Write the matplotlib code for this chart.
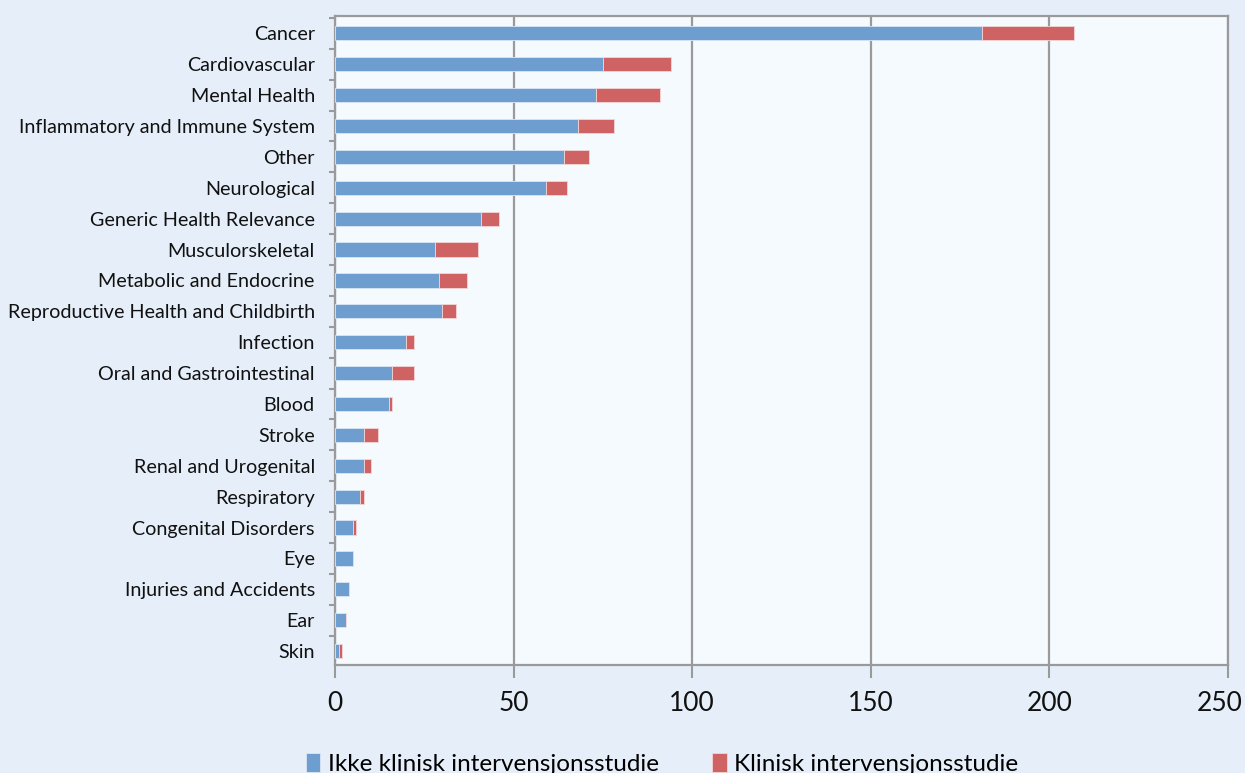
import matplotlib
matplotlib.use("Agg")
import matplotlib.pyplot as plt
import matplotlib.transforms as mtransforms
import numpy as np
from matplotlib.ticker import FixedLocator

plt.rcParams['font.family'] = ['Lato', 'DejaVu Sans']

categories = ["Cancer", "Cardiovascular", "Mental Health", "Inflammatory and Immune System",
              "Other", "Neurological", "Generic Health Relevance", "Musculorskeletal",
              "Metabolic and Endocrine", "Reproductive Health and Childbirth", "Infection",
              "Oral and Gastrointestinal", "Blood", "Stroke", "Renal and Urogenital",
              "Respiratory", "Congenital Disorders", "Eye", "Injuries and Accidents", "Ear", "Skin"]
ikke_klinisk = [181, 75, 73, 68, 64, 59, 41, 28, 29, 30, 20, 16, 15, 8, 8, 7, 5, 5, 4, 3, 1]
klinisk = [26, 19, 18, 10, 7, 6, 5, 12, 8, 4, 2, 6, 1, 4, 2, 1, 1, 0, 0, 0, 1]
xticks = [0, 50, 100, 150, 200, 250]
legend_labels = ["Ikke klinisk intervensjonsstudie", "Klinisk intervensjonsstudie"]

blue = '#6d9ecf'
red = '#cf6363'
grid_col = '#9a9a9a'

fig = plt.figure(figsize=(12.45, 7.73), dpi=100)
fig.patch.set_facecolor('#e6eff9')
ax = fig.add_axes([335/1245, 1-665/773, (1228-335)/1245, (665-16)/773])
ax.set_facecolor('#f5faff')

y = np.arange(len(categories))
b1 = ax.barh(y, ikke_klinisk, height=0.46, color=blue, edgecolor='#dbe7f5', linewidth=0.6, zorder=3)
b2 = ax.barh(y, klinisk, left=ikke_klinisk, height=0.46, color=red, edgecolor='#f2d6d6', linewidth=0.6, zorder=3)

ax.set_ylim(len(categories) - 0.55, -0.56)
ax.set_xlim(0, 250)
ax.set_yticks(y)
ax.set_yticklabels(categories, fontsize=14.2, color='#111111')
ax.yaxis.set_minor_locator(FixedLocator(np.arange(-0.5, len(categories), 1.0)))
ax.tick_params(axis='y', which='major', length=0, pad=14.5)
ax.tick_params(axis='y', which='minor', length=4.5, width=1.5, color=grid_col)

ax.set_xticks(xticks)
ax.set_xticklabels([str(t) for t in xticks], fontsize=19, color='#111111')
ax.tick_params(axis='x', which='major', length=9, width=1.5, color=grid_col, pad=10)
# keep the last label inside the figure, like the original
last = ax.get_xticklabels()[-1]
last.set_transform(last.get_transform() + mtransforms.ScaledTranslation(-8/100, 0, fig.dpi_scale_trans))

ax.grid(axis='x', color=grid_col, linewidth=1.6, zorder=1)
for s in ax.spines.values():
    s.set_color(grid_col)
    s.set_linewidth(1.6)

fig.legend([b1, b2], legend_labels, loc='center', bbox_to_anchor=(662/1245, 1-764/773),
           ncol=2, frameon=False, fontsize=17.5, handlelength=0.6, handleheight=0.85,
           handletextpad=0.3, columnspacing=2.2)

fig.savefig('out.png', dpi=100, facecolor=fig.get_facecolor())
